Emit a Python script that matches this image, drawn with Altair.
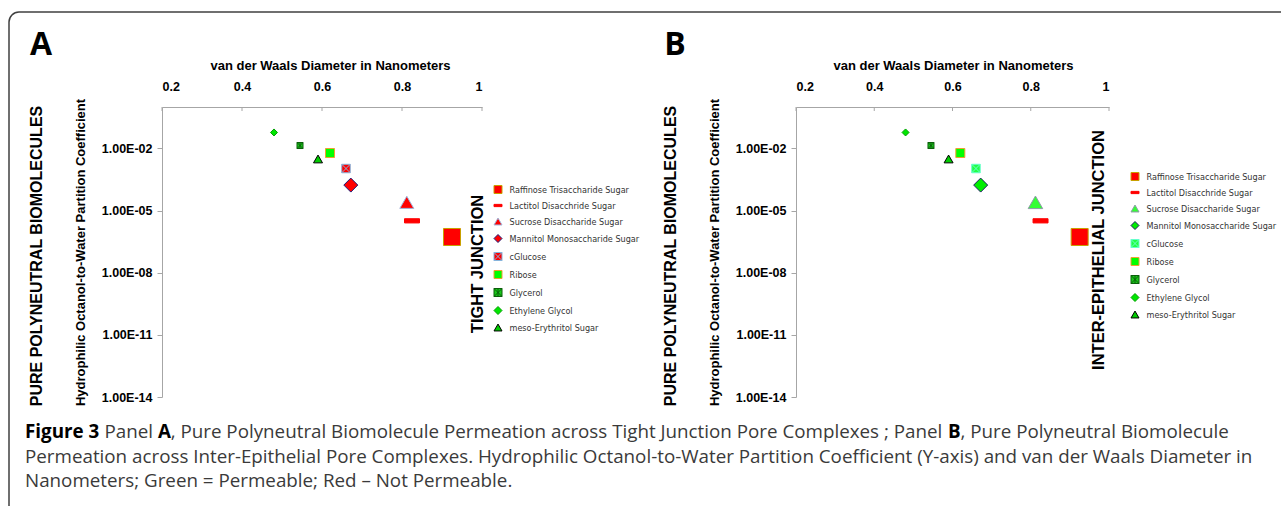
import altair as alt
import pandas as pd

# Molecules, in legend order
molecules = [
    "Raffinose Trisaccharide Sugar",
    "Lactitol Disacchride Sugar",
    "Sucrose Disaccharide Sugar",
    "Mannitol Monosaccharide Sugar",
    "cGlucose",
    "Ribose",
    "Glycerol",
    "Ethylene Glycol",
    "meso-Erythritol Sugar",
]
# van der Waals diameter (nm)
diameter_nm = [0.925, 0.825, 0.812, 0.672, 0.66, 0.62, 0.545, 0.48, 0.59]
# hydrophilic octanol-to-water partition coefficient
partition_coef = [5.3e-7, 3.2e-6, 2.5e-5, 1.7e-4, 1.07e-3, 6.0e-3, 1.38e-2, 5.9e-2, 3.1e-3]

x_ticks = [0.2, 0.4, 0.6, 0.8, 1.0]
y_ticks = [1e-14, 1e-11, 1e-8, 1e-5, 1e-2]

# marker styles
SQUARE_X = "M-1,-1H1V1H-1ZM-1,-1L1,1M1,-1L-1,1"
SQUARE_STAR = "M-1,-1H1V1H-1ZM-1,-1L1,1M1,-1L-1,1M0,-1V1"
DASH = "M-1,-0.28H1V0.28H-1Z"
shapes = ["square", DASH, "triangle-up", "diamond", SQUARE_X, "square", SQUARE_STAR, "diamond", "triangle-up"]

fill_tight = ["#ff0000", "#ff0000", "#ff0000", "#ff0000", "#ff0000", "#00ff00", "#19c819", "#00e600", "#00cc00"]
stroke_tight = ["#c8a000", "#ff0000", "#9db5dc", "#1c1c78", "#86b4dc", "#f0a030", "#0b5e0b", "#00a000", "#000000"]
fill_inter = ["#ff0000", "#ff0000", "#33ff33", "#00ee00", "#22ff44", "#00ff00", "#19c819", "#00e600", "#00cc00"]
stroke_inter = ["#c8a000", "#ff0000", "#8d9aa8", "#1c1c60", "#66ffcc", "#f0a030", "#0b5e0b", "#00a000", "#000000"]
area_tight = [289, 225, 196, 196, 72, 81, 36, 49, 81]
area_inter = [289, 225, 210, 196, 72, 81, 36, 49, 81]

SANS = "Liberation Sans"
NARROW = "Liberation Sans Narrow, DejaVu Sans Condensed, Liberation Sans"
CAPTION = "Open Sans"
AXIS_GREY = "#a6a6a6"
PLOT_H = 290

Y_LABEL = "'1.00E-' + (round(-log(datum.value)/LN10) < 10 ? '0' : '') + round(-log(datum.value)/LN10)"


def note(text, x, y, size, weight="bold", angle=0, align="center",
         baseline="middle", color="#000000", font=SANS):
    return alt.Chart(pd.DataFrame({"t": [text]})).mark_text(
        angle=angle, align=align, baseline=baseline, font=font,
        fontSize=size, fontWeight=weight, color=color,
    ).encode(text="t:N", x=alt.value(x), y=alt.value(y))


def panel(letter, junction, fills, strokes, areas, width, legend_x, legend_y,
          title_x, junction_x, junction_y, extra=()):
    df = pd.DataFrame({
        "molecule": molecules,
        "diameter": diameter_nm,
        "partition": partition_coef,
        "area": areas,
    })
    xs = alt.Scale(domain=[0.2, 1.0], nice=False, zero=False)
    ys = alt.Scale(type="log", domain=[1e-14, 1.0], nice=False)
    x_axis = alt.Axis(
        orient="top", values=x_ticks, format="~g", ticks=False, tickSize=0,
        labelPadding=14, labelFont=SANS, labelFontSize=12.5, labelFontWeight="bold",
        labelColor="#000000", domainColor=AXIS_GREY,
        title="van der Waals Diameter in Nanometers", titleFont=SANS,
        titleFontSize=13, titleFontWeight="bold", titleColor="#000000",
        titleX=title_x, titleY=-42, titleBaseline="middle", titleAlign="center",
    )
    legend = alt.Legend(
        orient="none", legendX=legend_x, legendY=legend_y, title=None,
        symbolSize=64, symbolStrokeWidth=1, labelFont=NARROW, labelFontSize=9,
        labelColor="#333333", rowPadding=5, labelOffset=7, padding=0, labelLimit=220,
    )
    pts = alt.Chart(df).mark_point(filled=True, opacity=1, strokeWidth=1).encode(
        x=alt.X("diameter:Q", scale=xs, axis=x_axis),
        y=alt.Y("partition:Q", scale=ys, axis=alt.Axis(
            values=y_ticks, labelExpr=Y_LABEL, tickSize=5, tickColor=AXIS_GREY,
            labelPadding=5, labelFont=SANS, labelFontSize=12.5, labelFontWeight="bold",
            labelColor="#000000", domainColor=AXIS_GREY,
            title="Hydrophilic Octanol-to-Water Partition Coefficient", titleFont=SANS,
            titleFontSize=13, titleFontWeight="bold", titleColor="#000000",
            titleX=-82, titleY=PLOT_H / 2, titleAngle=270, titleBaseline="middle",
            titleAlign="center",
        )),
        fill=alt.Fill("molecule:N", scale=alt.Scale(domain=molecules, range=fills), legend=legend),
        stroke=alt.Stroke("molecule:N", scale=alt.Scale(domain=molecules, range=strokes), legend=legend),
        shape=alt.Shape("molecule:N", scale=alt.Scale(domain=molecules, range=shapes), legend=legend),
        size=alt.Size("area:Q", scale=None, legend=None),
    )
    # inward tick marks on the top axis
    ticks = alt.Chart(pd.DataFrame({"diameter": x_ticks})).mark_rule(
        color=AXIS_GREY, strokeWidth=1
    ).encode(x=alt.X("diameter:Q", scale=xs, axis=x_axis), y=alt.value(0), y2=alt.value(4))

    layers = list(extra) + [
        pts,
        ticks,
        note(letter, -121, -52, 32, baseline="alphabetic", font=CAPTION),
        note("PURE POLYNEUTRAL BIOMOLECULES", -125, 149, 16, angle=270),
        note(junction, junction_x, junction_y, 16.5, angle=270),
    ]
    return alt.layer(*layers).properties(width=width, height=PLOT_H)


# figure frame and caption, positioned from panel A's plot origin
frame = alt.Chart(pd.DataFrame({"t": [0]})).mark_rect(
    fillOpacity=0, stroke="#404040", strokeWidth=1.5, cornerRadius=10
).encode(x=alt.value(-153), x2=alt.value(1400), y=alt.value(-95), y2=alt.value(600))

CAP = 18.8
L1, L2, L3 = 331, 356, 380
caption = [
    note("Figure 3", -137, L1, CAP, "bold", align="left", baseline="alphabetic", font=CAPTION),
    note("Panel", -57.5, L1, CAP, "normal", align="left", baseline="alphabetic", color="#3a3a3a", font=CAPTION),
    note("A", -4.0, L1, CAP, "bold", align="left", baseline="alphabetic", font=CAPTION),
    note(", Pure Polyneutral Biomolecule Permeation across Tight Junction Pore Complexes ; Panel",
         8.7, L1, CAP, "normal", align="left", baseline="alphabetic", color="#3a3a3a", font=CAPTION),
    note("B", 786.1, L1, CAP, "bold", align="left", baseline="alphabetic", font=CAPTION),
    note(", Pure Polyneutral Biomolecule", 798.5, L1, CAP, "normal", align="left",
         baseline="alphabetic", color="#3a3a3a", font=CAPTION),
    note("Permeation across Inter-Epithelial Pore Complexes. Hydrophilic Octanol-to-Water Partition "
         "Coefficient (Y-axis) and van der Waals Diameter in",
         -137, L2, CAP, "normal", align="left", baseline="alphabetic", color="#3a3a3a", font=CAPTION),
    note("Nanometers; Green = Permeable; Red \u2013 Not Permeable.",
         -137, L3, CAP, "normal", align="left", baseline="alphabetic", color="#3a3a3a", font=CAPTION),
]

panel_a = panel("A", "TIGHT JUNCTION", fill_tight, stroke_tight, area_tight, 320,
                legend_x=331.5, legend_y=78, title_x=168, junction_x=316, junction_y=157,
                extra=[frame] + caption)
panel_b = panel("B", "INTER-EPITHELIAL JUNCTION", fill_inter, stroke_inter, area_inter, 313,
                legend_x=334.5, legend_y=65, title_x=157, junction_x=303, junction_y=143)

chart = alt.hconcat(panel_a, panel_b, spacing=314, bounds="flush").resolve_scale(
    x="independent", y="independent", fill="independent", stroke="independent",
    shape="independent", size="independent",
).resolve_legend(
    fill="independent", stroke="independent", shape="independent",
).properties(
    autosize=alt.AutoSizeParams(type="none"),
    padding={"left": 162, "top": 107, "right": 1119, "bottom": 399},
    background="white",
).configure_view(strokeWidth=0).configure_axis(grid=False)

chart.save("out.html", embed_options={"renderer": "svg", "actions": False})
